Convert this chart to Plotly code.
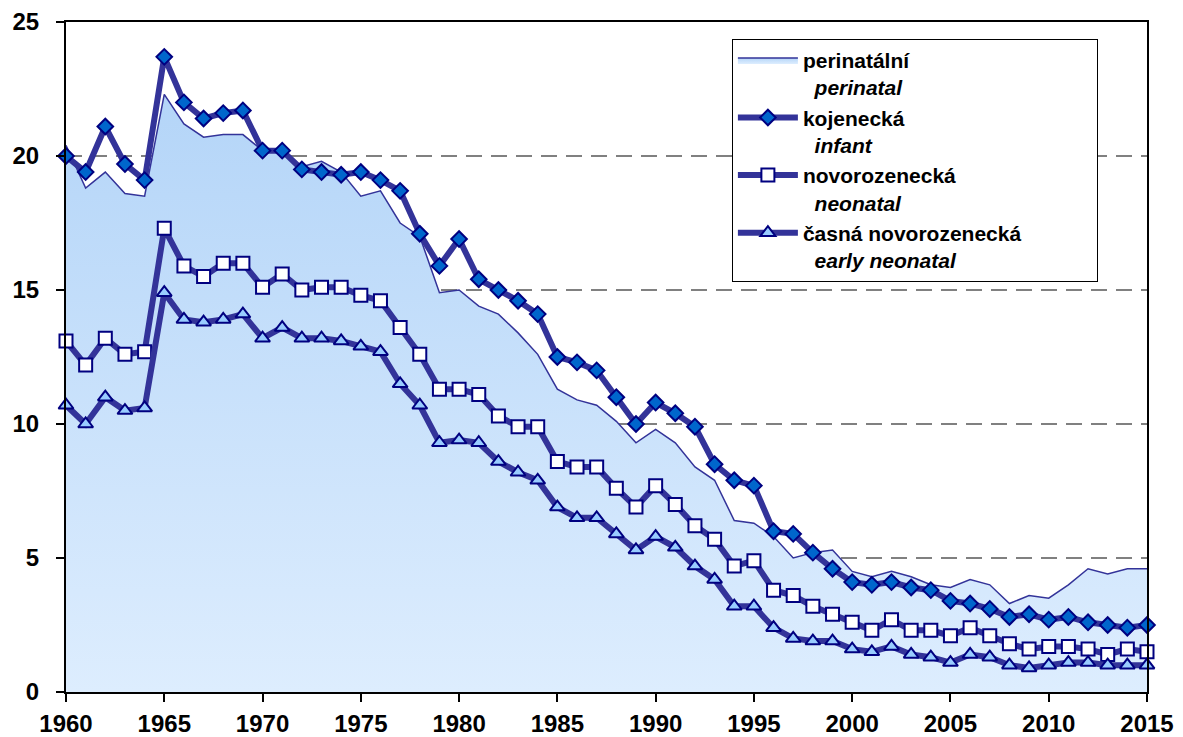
import plotly.graph_objects as go

# -----------------------------------------------------------------------------
# Data (per 1000 live births)
# -----------------------------------------------------------------------------
years = list(range(1960, 2016))

perinatal = [
    20.4, 18.8, 19.4, 18.6, 18.5, 22.3, 21.2, 20.7, 20.8, 20.8,
    20.2, 20.2, 19.6, 19.8, 19.4, 18.5, 18.7, 17.5, 17.0, 14.9,
    15.0, 14.4, 14.1, 13.4, 12.6, 11.3, 10.9, 10.7, 10.1, 9.3,
    9.8, 9.3, 8.4, 7.9, 6.4, 6.3, 5.8, 5.0, 5.2, 5.3,
    4.5, 4.3, 4.5, 4.3, 4.0, 3.9, 4.2, 4.0, 3.3, 3.6,
    3.5, 4.0, 4.6, 4.4, 4.6, 4.6,
]

infant = [
    20.0, 19.4, 21.1, 19.7, 19.1, 23.7, 22.0, 21.4, 21.6, 21.7,
    20.2, 20.2, 19.5, 19.4, 19.3, 19.4, 19.1, 18.7, 17.1, 15.9,
    16.9, 15.4, 15.0, 14.6, 14.1, 12.5, 12.3, 12.0, 11.0, 10.0,
    10.8, 10.4, 9.9, 8.5, 7.9, 7.7, 6.0, 5.9, 5.2, 4.6,
    4.1, 4.0, 4.1, 3.9, 3.8, 3.4, 3.3, 3.1, 2.8, 2.9,
    2.7, 2.8, 2.6, 2.5, 2.4, 2.5,
]

neonatal = [
    13.1, 12.2, 13.2, 12.6, 12.7, 17.3, 15.9, 15.5, 16.0, 16.0,
    15.1, 15.6, 15.0, 15.1, 15.1, 14.8, 14.6, 13.6, 12.6, 11.3,
    11.3, 11.1, 10.3, 9.9, 9.9, 8.6, 8.4, 8.4, 7.6, 6.9,
    7.7, 7.0, 6.2, 5.7, 4.7, 4.9, 3.8, 3.6, 3.2, 2.9,
    2.6, 2.3, 2.7, 2.3, 2.3, 2.1, 2.4, 2.1, 1.8, 1.6,
    1.7, 1.7, 1.6, 1.4, 1.6, 1.5,
]

early_neonatal = [
    10.7, 10.0, 11.0, 10.5, 10.6, 14.9, 13.9, 13.8, 13.9, 14.1,
    13.2, 13.6, 13.2, 13.2, 13.1, 12.9, 12.7, 11.5, 10.7, 9.3,
    9.4, 9.3, 8.6, 8.2, 7.9, 6.9, 6.5, 6.5, 5.9, 5.3,
    5.8, 5.4, 4.7, 4.2, 3.2, 3.2, 2.4, 2.0, 1.9, 1.9,
    1.6, 1.5, 1.7, 1.4, 1.3, 1.1, 1.4, 1.3, 1.0, 0.9,
    1.0, 1.1, 1.1, 1.0, 1.0, 1.0,
]

legend_names = [
    ("perinatální", "perinatal"),
    ("kojenecká", "infant"),
    ("novorozenecká", "neonatal"),
    ("časná novorozenecká", "early neonatal"),
]

x_ticks = list(range(1960, 2016, 5))
y_ticks = [0, 5, 10, 15, 20, 25]

LINE_COLOR = "#333399"
EDGE_COLOR = "#000080"
FONT = "Liberation Sans, Arial, sans-serif"
PAD = "&nbsp;" * 12   # widens the legend box like the original


def label(cz, en, pad=""):
    return f"{cz}{pad}<br>&nbsp;&nbsp;<i>{en}</i>"


fig = go.Figure()

# perinatal: gradient-filled area with thin outline
fig.add_trace(go.Scatter(
    x=years, y=perinatal, name=label(*legend_names[0]),
    mode="lines", fill="tozeroy",
    line=dict(color=LINE_COLOR, width=1.5),
    fillgradient=dict(type="vertical",
                      colorscale=[[0, "#DDEDFE"], [1, "#B4D5F8"]]),
))

series = [
    (infant, "diamond", "#0066CC", 12),
    (neonatal, "square", "#FFFFFF", 13),
    (early_neonatal, "triangle-up", "#99CCFF", 13),
]
for i, ((vals, sym, fillc, size), names) in enumerate(zip(series, legend_names[1:])):
    fig.add_trace(go.Scatter(
        x=years, y=vals, name=label(*names, pad=PAD if i == 2 else ""),
        mode="lines+markers", cliponaxis=False,
        line=dict(color=LINE_COLOR, width=6),
        marker=dict(symbol=sym, size=size, color=fillc,
                    line=dict(color=EDGE_COLOR, width=2)),
    ))

# page body adds an 8px offset, so margins are shifted to compensate
fig.update_layout(
    width=1183, height=737,
    margin=dict(l=58, r=44, t=14, b=53),
    paper_bgcolor="white", plot_bgcolor="white",
    font=dict(family=FONT, size=24, color="black", weight="bold"),
    showlegend=True,
    legend=dict(
        x=0.616, y=0.975, xanchor="left", yanchor="top",
        bgcolor="white", bordercolor="black", borderwidth=1,
        font=dict(family=FONT, size=21, color="black", weight="bold"),
        valign="top", itemwidth=60, tracegroupgap=0,
    ),
)

fig.update_xaxes(
    range=[1960, 2015], tickvals=x_ticks, automargin=False,
    showline=True, linecolor="black", linewidth=2, mirror=True,
    ticks="outside", ticklen=8, tickwidth=2, tickcolor="black",
    showgrid=False, zeroline=False, ticklabelstandoff=1,
)
fig.update_yaxes(
    range=[0, 25], tickvals=y_ticks, automargin=False,
    showline=True, linecolor="black", linewidth=2, mirror=True,
    ticks="outside", ticklen=8, tickwidth=2, tickcolor="black",
    showgrid=True, gridcolor="#808080", gridwidth=2, griddash="16px,9px",
    zeroline=False, ticklabelstandoff=12,
)

fig.write_html("out.html")
